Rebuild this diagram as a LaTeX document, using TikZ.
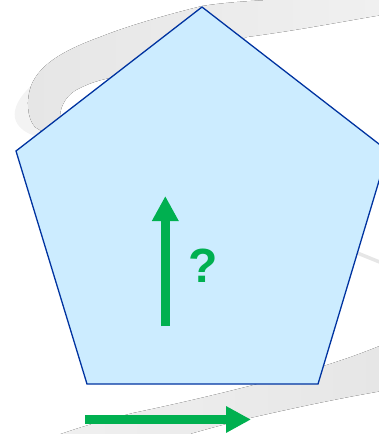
\documentclass[tikz,border=0pt]{standalone}
\usepackage{fontspec}
\setmainfont{Liberation Sans}
\usetikzlibrary{arrows.meta}
\definecolor{pentfill}{HTML}{CCECFF}
\definecolor{pentline}{HTML}{0033A0}
\definecolor{arrgreen}{HTML}{00B050}
\definecolor{swooshA}{HTML}{E6E6E6}
\definecolor{swooshB}{HTML}{F0F0F0}
\definecolor{swooshC}{HTML}{F3F3F3}
\tikzset{
  greenarrow/.style={draw=arrgreen, line width=9pt, line cap=butt,
    -{Triangle[width=25pt,length=25pt]}},
  pentstyle/.style={fill=pentfill, draw=pentline, line width=1.3pt, line join=miter},
}
\begin{document}
\begin{tikzpicture}[x=1pt,y=-1pt]
\useasboundingbox (0,0) rectangle (379,434);
\clip (0,0) rectangle (379,434);
% background swoosh: light edge strip on the left
\fill[swooshC] (31,86) .. controls (20,96) and (13,108) .. (15,118)
  .. controls (17,128) and (28,135) .. (40,137) -- (50,134) -- (46,110) -- cycle;
% background swoosh: top band
\fill[left color=swooshA, right color=swooshB]
  (382,-3) .. controls (300,-2) and (240,0) .. (202,6)
  .. controls (170,14) and (130,25) .. (100,37)
  .. controls (70,48) and (40,62) .. (31,86)
  .. controls (26,100) and (27,118) .. (35,127)
  -- (46,134) -- (66,125) -- (60,117)
  .. controls (60,105) and (68,93) .. (80,88)
  .. controls (90,83) and (100,80) .. (110,78)
  -- (230,45) -- (247,37)
  .. controls (300,30) and (340,22) .. (382,15) -- cycle;
% thin line emerging at right
\draw[swooshA, line width=3.5pt] (345,248) -- (382,263);
% bottom band
\fill[left color=swooshB, right color=swooshA]
  (382,345) .. controls (360,354) and (340,361) .. (320,367)
  .. controls (260,384) and (200,399) .. (133,413)
  .. controls (105,420) and (80,427) .. (55,436)
  -- (183,436)
  .. controls (200,431) and (225,424) .. (250,418)
  .. controls (290,409) and (330,400) .. (382,391) -- cycle;
% pentagon
\coordinate (pT) at (202,7);
\coordinate (pR) at (388,151);
\coordinate (pBR) at (318,384);
\coordinate (pBL) at (87,384);
\coordinate (pL) at (16,151);
\draw[pentstyle] (pT) -- (pR) -- (pBR) -- (pBL) -- (pL) -- cycle;
% arrows
\coordinate (upTail) at (165.3,326);
\coordinate (upTip) at (165.3,196);
\draw[greenarrow] (upTail) -- (upTip);
\coordinate (rtTail) at (85,419.5);
\coordinate (rtTip) at (251,419.5);
\draw[greenarrow] (rtTail) -- (rtTip);
\node[text=arrgreen, inner sep=0pt, font=\fontsize{48}{48}\selectfont\bfseries] (q) at (203,266) {?};
\end{tikzpicture}
\end{document}
